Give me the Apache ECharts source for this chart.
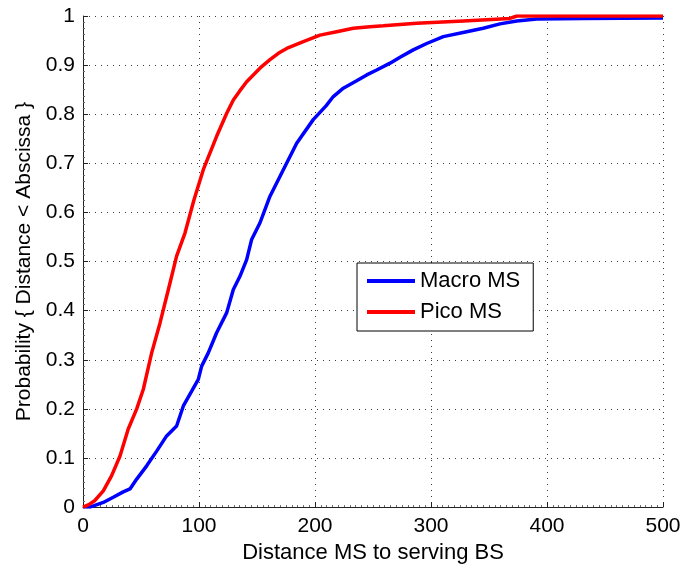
<!DOCTYPE html>
<html>
<head>
<meta charset="utf-8">
<script src="https://cdn.jsdelivr.net/npm/echarts@6/dist/echarts.min.js"></script>
<style>
  html, body { margin: 0; padding: 0; background: #fff; }
  #chart { width: 684px; height: 569px; }
</style>
</head>
<body>
<div id="chart"></div>
<script>
// Empirical CDF of the distance from a mobile station to its serving base station
const macroX = [0, 6, 17.5, 26.1, 34.7, 40.5, 46.3, 54.9, 63.5, 72.1, 80.7, 86.5, 93.7, 99.4, 102.3, 108, 115.2, 123.9, 129.6, 135.3, 141.1, 145.4, 152.6, 161.2, 172.7, 184.2, 198.5, 209.5, 215.8, 224.4, 235.9, 244.6, 253.2, 264.7, 273.3, 284.7, 296.3, 310.6, 330.7, 345, 359.5, 373.9, 391.1, 431.3, 500];
const macroY = [0, 0, 0.0095, 0.02, 0.031, 0.037, 0.057, 0.084, 0.114, 0.145, 0.165, 0.206, 0.236, 0.26, 0.287, 0.314, 0.355, 0.396, 0.443, 0.47, 0.504, 0.545, 0.579, 0.633, 0.687, 0.741, 0.789, 0.817, 0.836, 0.853, 0.868, 0.88, 0.89, 0.904, 0.916, 0.931, 0.944, 0.958, 0.968, 0.975, 0.984, 0.99, 0.994, 0.995, 0.996];

const picoX = [0, 5, 10, 17.5, 24.7, 31.9, 39, 46.3, 52, 59.2, 66.4, 73.6, 80.7, 87.9, 95.7, 103.7, 115.2, 123.9, 129.6, 135.3, 141.1, 146.8, 154, 161.2, 168.4, 175.6, 189.9, 204.3, 218.7, 233, 247.4, 258.9, 287.6, 327.9, 368, 374, 500];
const picoY = [0, 0.005, 0.013, 0.033, 0.064, 0.104, 0.159, 0.2, 0.24, 0.314, 0.375, 0.443, 0.511, 0.558, 0.626, 0.687, 0.755, 0.802, 0.829, 0.848, 0.866, 0.88, 0.897, 0.911, 0.924, 0.934, 0.948, 0.961, 0.968, 0.975, 0.978, 0.98, 0.985, 0.99, 0.995, 1.0, 1.0];

const seriesNames = ['Macro MS', 'Pico MS'];
const xAxisTitle = 'Distance MS to serving BS';
const yAxisTitle = 'Probability { Distance < Abscissa }';

const pairs = (xs, ys) => xs.map((x, i) => [x, ys[i]]);

const FONT = '"Liberation Sans", Arial, Helvetica, sans-serif';
const gridDots = { show: true, lineStyle: { color: '#3a3a3a', width: 1, type: [1, 5] } };

const chart = echarts.init(document.getElementById('chart'), null, { renderer: 'canvas' });
chart.setOption({
  backgroundColor: '#ffffff',
  animation: false,
  textStyle: { fontFamily: FONT, color: '#000' },
  grid: { left: 83, right: 21, top: 16, bottom: 61, containLabel: false },
  legend: {
    orient: 'vertical',
    left: 357,
    top: 263,
    padding: [7, 13, 8, 10],
    icon: 'rect',
    itemWidth: 48,
    itemHeight: 4,
    itemGap: 9,
    backgroundColor: '#fff',
    borderColor: '#000',
    borderWidth: 1,
    borderRadius: 0,
    textStyle: { fontFamily: FONT, fontSize: 22, color: '#000', padding: [0, 0, 0, 0] },
    data: seriesNames
  },
  xAxis: {
    type: 'value',
    min: 0, max: 500, interval: 100,
    name: xAxisTitle,
    nameLocation: 'middle',
    nameGap: 30,
    nameTextStyle: { fontFamily: FONT, fontSize: 22, color: '#000' },
    axisLine: { show: true, lineStyle: { color: '#222', width: 1 } },
    axisTick: { show: true, inside: true, length: 5, lineStyle: { color: '#222' } },
    minorTick: { show: true, splitNumber: 20, length: 2, lineStyle: { color: '#666' } },
    axisLabel: { fontFamily: FONT, fontSize: 21, color: '#000', margin: 9 },
    splitLine: gridDots
  },
  yAxis: {
    type: 'value',
    min: 0, max: 1, interval: 0.1,
    name: yAxisTitle,
    nameLocation: 'middle',
    nameGap: 47,
    nameTextStyle: { fontFamily: FONT, fontSize: 21, color: '#000' },
    axisLine: { show: true, lineStyle: { color: '#222', width: 1 } },
    axisTick: { show: true, inside: true, length: 5, lineStyle: { color: '#222' } },
    minorTick: { show: true, splitNumber: 8, length: 2, lineStyle: { color: '#666' } },
    axisLabel: { fontFamily: FONT, fontSize: 21, color: '#000', margin: 8 },
    splitLine: gridDots
  },
  series: [
    {
      name: seriesNames[0],
      type: 'line',
      data: pairs(macroX, macroY),
      symbol: 'none',
      color: '#0000ff',
      lineStyle: { color: '#0000ff', width: 3.5 },
      z: 3
    },
    {
      name: seriesNames[1],
      type: 'line',
      data: pairs(picoX, picoY),
      symbol: 'none',
      color: '#ff0000',
      lineStyle: { color: '#ff0000', width: 3.5 },
      z: 4
    }
  ]
});
</script>
</body>
</html>
